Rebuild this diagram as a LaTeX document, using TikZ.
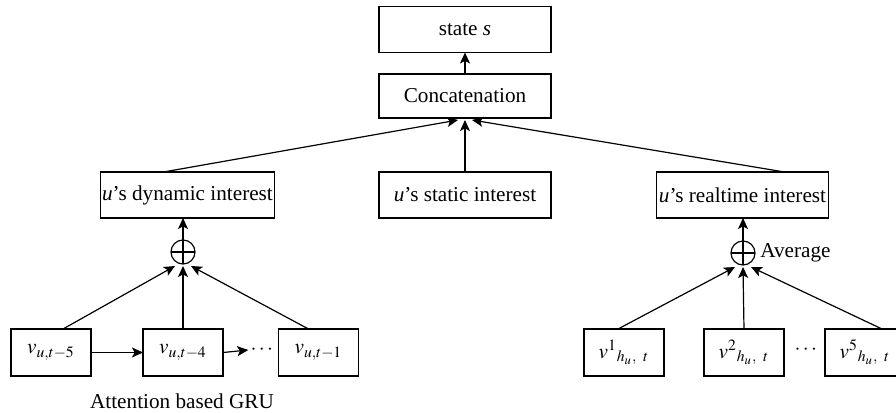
\documentclass[tikz,border=0pt]{standalone}
\usepackage{amssymb,amsmath}
\usepackage{mathptmx}
\usepackage{fontspec}
\setmainfont{Liberation Serif}
\usepackage{tikz}
\usetikzlibrary{positioning,arrows.meta}

\begin{document}
\begin{tikzpicture}[x=0.5pt,y=-0.5pt]
  \tikzset{BoxStyle/.style = {
    shape         = rectangle,
    draw          = black,
    fill          = white,
    line width    = 0.6pt,
    text          = black,
    inner sep     = 1pt,
    outer sep     = 0pt,
    minimum width = 86pt,
    minimum height= 23pt,
    font          = \fontsize{10.6pt}{13pt}\selectfont
    }
  }
  \tikzset{SmallBoxStyle/.style = {
    BoxStyle,
    minimum width = 40pt,
    minimum height= 23.5pt
    }
  }
  \tikzset{SumStyle/.style = {
    shape         = circle,
    draw          = black,
    line width    = 0.6pt,
    inner sep     = 0pt,
    outer sep     = 0pt,
    minimum size  = 12pt
    }
  }
  \tikzset{ArrowStyle/.style = {
    draw          = black,
    line width    = 0.6pt,
    -{Stealth[length=5.5pt,width=5pt,inset=1.3pt]}
    }
  }
  \tikzset{TextStyle/.style = {
    inner sep     = 1pt,
    font          = \fontsize{10.6pt}{13pt}\selectfont
    }
  }
  \useasboundingbox (0,0) rectangle (896,413);

	\node[BoxStyle](state) at (465, 29.5) {state \textit{s}};
	\node[BoxStyle, minimum height=22pt](concat) at (465, 96) {Concatenation};
	\node[BoxStyle](dyn) at (187.5, 195) {\textit{u}’s dynamic interest};
	\node[BoxStyle](static) at (465, 195) {\textit{u}’s static interest};
	\node[BoxStyle](real) at (742.5, 195) {\textit{u}’s realtime interest};

	\node[SumStyle](sumL) at (183, 252) {};
	\node[SumStyle](sumR) at (743, 253) {};
	\draw[line width=0.6pt] (sumL.north) -- (sumL.south) (sumL.west) -- (sumL.east);
	\draw[line width=0.6pt] (sumR.north) -- (sumR.south) (sumR.west) -- (sumR.east);
	\node[TextStyle, right=1.5pt of sumR](avg){Average};

	% sequence of clicked items
	\node[SmallBoxStyle](vA) at (51, 352.5) {$v_{u,t-5}$};
	\node[SmallBoxStyle](vB) at (183, 352.5) {$v_{u,t-4}$};
	\node[SmallBoxStyle](vC) at (318.5, 352.5) {$v_{u,t-1}$};
	\node[TextStyle](dotsL) at (263, 350) {$\cdots$};
	\node[TextStyle](gru) at (182, 401) {Attention based GRU};

	% realtime items
	\node[SmallBoxStyle](hA) at (624, 352.5) {${v^{1}}_{h_u,\;\; t}$};
	\node[SmallBoxStyle](hB) at (744, 352.5) {${v^{2}}_{h_u,\;\; t}$};
	\node[SmallBoxStyle](hC) at (865, 352.5) {${v^{5}}_{h_u,\;\; t}$};
	\node[TextStyle](dotsR) at (807, 350) {$\cdots$};

	\draw[ArrowStyle] (concat) -- (state);
	\draw[ArrowStyle] ([xshift=-12pt]dyn.north) -- ([xshift=-3.5pt,yshift=-1pt]concat.south);
	\draw[ArrowStyle] (static) -- ([yshift=-1pt]concat.south);
	\draw[ArrowStyle] ([xshift=21pt]real.north) -- ([xshift=3.5pt,yshift=-1pt]concat.south);

	\draw[ArrowStyle] (sumL.north) -- (sumL.north |- dyn.south);
	\draw[ArrowStyle] (sumR.north) -- (sumR.north |- real.south);

	\draw[ArrowStyle] ([xshift=6pt]vA.north) -- ([xshift=-4pt,yshift=-1pt]sumL.south);
	\draw[ArrowStyle] (vB.north) -- ([yshift=-1pt]sumL.south);
	\draw[ArrowStyle] ([xshift=-5pt]vC.north) -- ([xshift=4pt,yshift=-1pt]sumL.south);
	\draw[ArrowStyle] (vA) -- (vB);
	\draw[ArrowStyle] (vB.east) -- (dotsL.west);

	\draw[ArrowStyle] ([xshift=-3pt]hA.north) -- ([xshift=-4pt,yshift=-1pt]sumR.south);
	\draw[ArrowStyle] (hB.north) -- ([yshift=-1pt]sumR.south);
	\draw[ArrowStyle] ([xshift=8.5pt]hC.north) -- ([xshift=4pt,yshift=-1pt]sumR.south);

\end{tikzpicture}
\end{document}
